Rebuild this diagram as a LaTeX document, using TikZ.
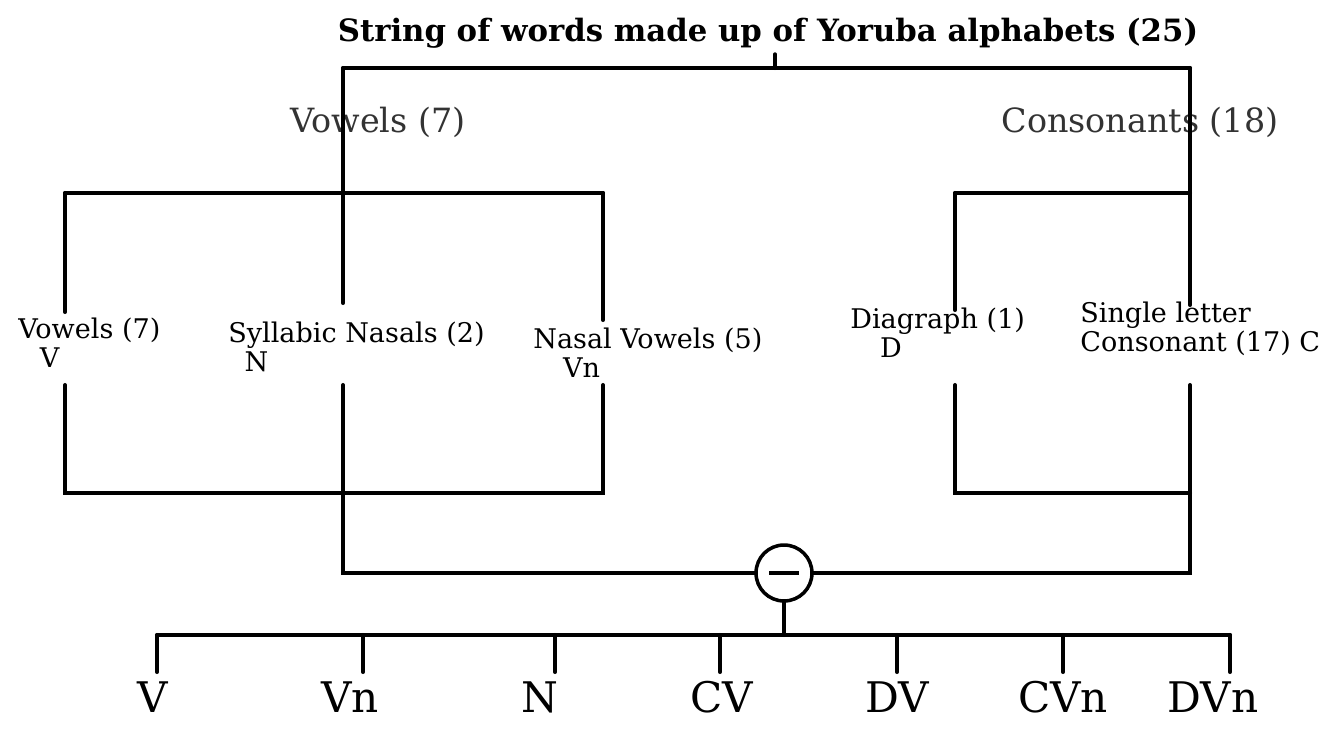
\documentclass[tikz,border=0pt]{standalone}
\usepackage{fontspec}
\setmainfont{DejaVu Serif}
\usetikzlibrary{positioning}
\definecolor{textgray}{rgb}{0.2, 0.2, 0.2}

\begin{document}
\begin{tikzpicture}[x=0.02cm, y=-0.02cm,
    wire/.style={line width=2.3pt, line cap=round},
    titletext/.style={font=\fontsize{17.5}{19}\selectfont\bfseries},
    grouptext/.style={font=\fontsize{19}{21}\selectfont, text=textgray},
    leaftext/.style={font=\fontsize{15.4}{16.5}\selectfont, align=left, anchor=north west, inner sep=0pt},
    patterntext/.style={font=\fontsize{24}{26}\selectfont}]

    \useasboundingbox[fill=white] (0,0) rectangle (1339,730);

    % top level
    \node[titletext] (title) at (768,33) {String of words made up of Yoruba alphabets (25)};
    \coordinate (top) at (775,68);
    \coordinate (topl) at (343,68);
    \coordinate (topr) at (1190,68);
    \draw[wire] (top |- title.south) -- (top);
    \draw[wire] (topl) -- (topr);

    \node[grouptext] (vowels) at (378,122) {Vowels (7)};
    \node[grouptext] (cons) at (1140,122) {Consonants (18)};

    % vowel box
    \coordinate (vl) at (65,193);
    \coordinate (vr) at (603,193);
    \draw[wire] (vl) -- (vr);
    \draw[wire] (vl) -- (65,312);
    \draw[wire] (vr) -- (603,320);
    \draw[wire] (topl) -- (343,303);

    % consonant box
    \coordinate (cl) at (955,193);
    \draw[wire] (cl) -- (1190,193);
    \draw[wire] (cl) -- (955,310);
    \draw[wire] (topr) -- (1190,305);

    \node[leaftext] (v) at (18,318) {Vowels (7)\\\hspace{0.8em}V};
    \node[leaftext] (n) at (228,322) {Syllabic Nasals (2)\\\hspace{0.6em}N};
    \node[leaftext] (vn) at (533,328) {Nasal Vowels (5)\\\hspace{1.1em}Vn};
    \node[leaftext] (d) at (850,308) {Diagraph (1)\\\hspace{1.1em}D};
    \node[leaftext] (c) at (1080,302) {Single letter\\Consonant (17) C};

    % lower boxes
    \draw[wire] (65,385) -- (65,493) -- (603,493) -- (603,385);
    \draw[wire] (955,385) -- (955,493) -- (1190,493);

    \node[circle, draw, line width=2pt, minimum size=1.12cm, inner sep=0pt] (op) at (784,573)
        {\rule[0pt]{0.6cm}{2.2pt}};
    \draw[wire] (343,385) -- (343,573) -- (op.west);
    \draw[wire] (op.east) -- (1190,573) -- (1190,385);

    \coordinate (fork) at (784,635);
    \draw[wire] (op.south) -- (fork);
    \draw[wire] (157,635) -- (1230,635);

    % syllable patterns
    \foreach \x/\lx/\t in {157/153/V, 363/350/Vn, 555/540/N, 720/722/CV,
                           897/897/DV, 1063/1063/CVn, 1230/1213/DVn} {
        \draw[wire] (\x,635) -- (\x,672);
        \node[patterntext] (p-\t) at (\lx,697) {\t};
    }

\end{tikzpicture}
\end{document}
